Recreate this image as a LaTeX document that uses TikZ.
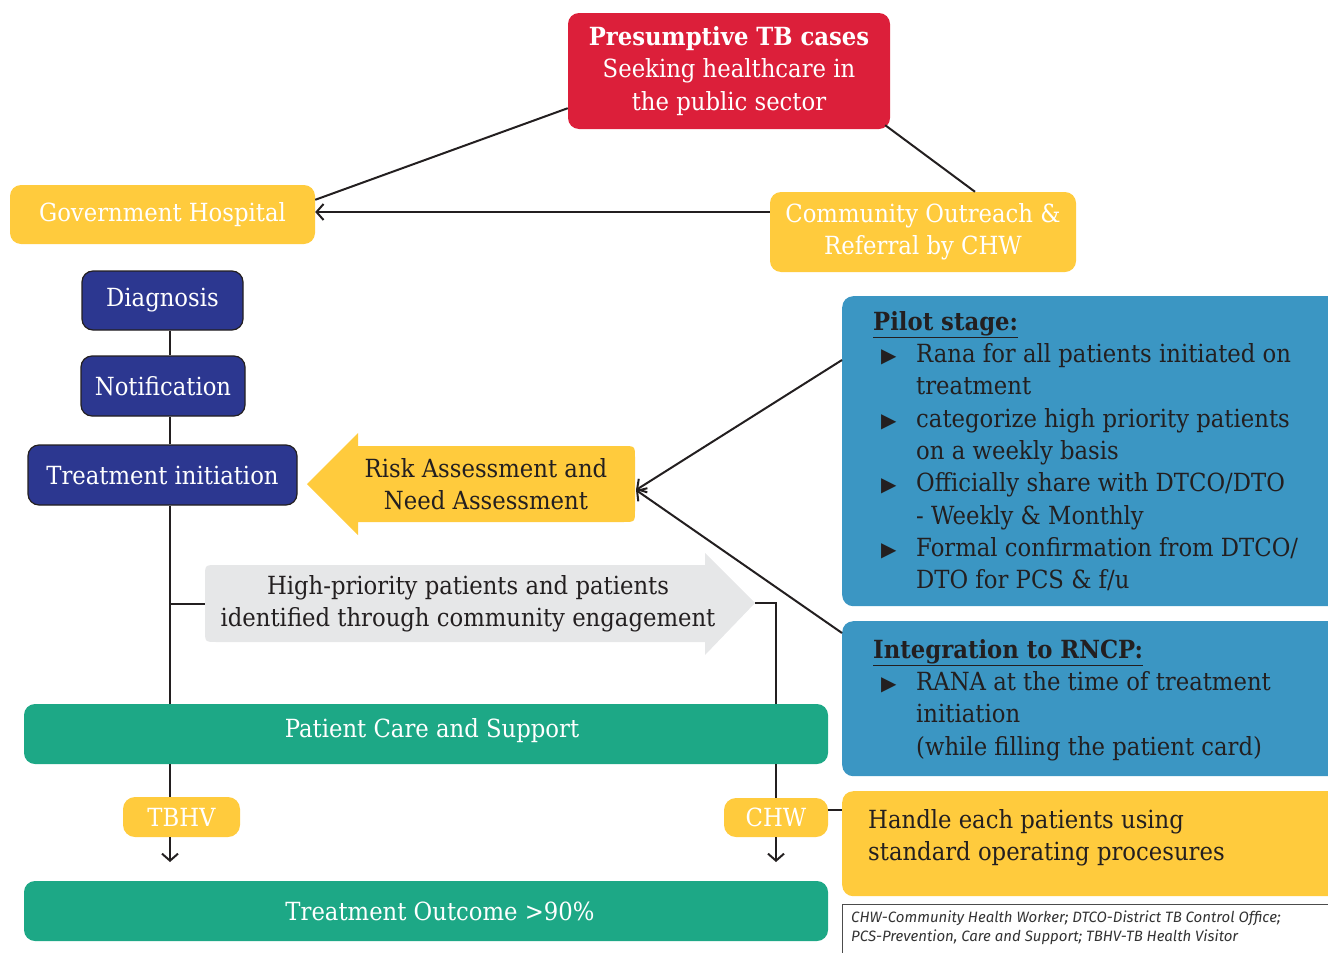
\documentclass[tikz,border=0pt]{standalone}
\usepackage{fontspec}
\setmainfont{DejaVu Serif}[FakeStretch=0.91]
\newfontfamily\symfont{DejaVu Sans}
\newfontfamily\legfont{Fira Sans}
\usetikzlibrary{arrows.meta,calc}
\definecolor{cred}{RGB}{220,31,58}
\definecolor{cyel}{RGB}{255,203,61}
\definecolor{cnavy}{RGB}{44,55,144}
\definecolor{cgreen}{RGB}{29,168,134}
\definecolor{cblue}{RGB}{59,150,195}
\definecolor{cgray}{RGB}{230,231,232}
\definecolor{cdark}{RGB}{35,31,32}
\newcommand{\mainsz}{\fontsize{25}{32.3}\selectfont}
\newcommand{\bul}{\makebox[43pt][l]{\hspace{8pt}{\symfont\fontsize{20}{20}\selectfont ▶}}}
\newcommand{\ind}{\hspace*{43pt}}
\begin{document}
\begin{tikzpicture}[x=1pt,y=-1pt,
  box/.style={rounded corners=11pt, inner sep=0pt, align=center, font=\mainsz},
  ybox/.style={box, fill=cyel, text=white},
  nbox/.style={box, fill=cnavy, draw=cdark, line width=1.2pt, text=white},
  gbox/.style={box, fill=cgreen, text=white},
  bbox/.style={box, fill=cblue, anchor=north west},
  txt/.style={inner sep=0pt, align=left, font=\mainsz, text=cdark, anchor=north west},
  conn/.style={draw=cdark, line width=2pt},
  arr/.style={conn, -{Straight Barb[length=7pt,width=16pt]}}]
\useasboundingbox (0,0) rectangle (1328,953);
% top
\node[box, fill=cred, text=white, minimum width=322, minimum height=116] (red) at (729,71)
  {\textbf{Presumptive TB cases}\\Seeking healthcare in\\the public sector};
\node[ybox, minimum width=305, minimum height=59] (gov) at (162.5,214.5) {Government Hospital};
\node[ybox, minimum width=306, minimum height=80] (comm) at (923,232) {Community Outreach \&\\Referral by CHW};
% left column
\node[nbox, minimum width=161, minimum height=59] (diag) at (162.5,300.5) {Diagnosis};
\node[nbox, minimum width=164, minimum height=60] (notif) at (163,386) {Notification};
\node[nbox, minimum width=269, minimum height=60] (treat) at (162.5,475) {Treatment initiation};
\coordinate (trunk) at (170,0);
\coordinate (right) at (776,0);
% risk arrow
\fill[cyel] (307,484) -- (358,433) -- (358,446) -- (623,446) .. controls (635,446) .. (635,458)
  -- (635,510) .. controls (635,522) .. (623,522) -- (358,522) -- (358,535) -- cycle;
\node[txt, anchor=center, align=center] (risk) at (486,484) {Risk Assessment and\\Need Assessment};
\coordinate (riskpt) at (636,490);
% gray arrow
\fill[cgray] (755,603) -- (705,553) -- (705,565) -- (217,565) .. controls (205,565) .. (205,577)
  -- (205,630) .. controls (205,642) .. (217,642) -- (705,642) -- (705,655) -- cycle;
\node[txt, anchor=center, align=center, minimum width=500] (grayn) at (455,603.5) {};
\node[txt, anchor=center, align=center] (graytxt) at (468,603.5) {High-priority patients and patients\\identified through community engagement};
\coordinate (graytip) at (755,603);
% blue boxes
\node[bbox, minimum width=500, minimum height=310] (pilot) at (842,296) {};
\node[txt] (pilottxt) at (873,311) {\underline{\textbf{Pilot stage:}}\\
\bul Rana for all patients initiated on\\
\ind treatment\\
\bul categorize high priority patients\\
\ind on a weekly basis\\
\bul Officially share with DTCO/DTO\\
\ind - Weekly \& Monthly\\
\bul Formal confirmation from DTCO/\\
\ind DTO for PCS \& f/u};
\node[bbox, minimum width=500, minimum height=155] (integ) at (842,621) {};
\node[txt] (integtxt) at (873,639) {\underline{\textbf{Integration to RNCP:}}\\
\bul RANA at the time of treatment\\
\ind initiation\\
\ind (while filling the patient card)};
% bottom
\node[gbox, minimum width=804, minimum height=60] (care) at (426,734) {};
\node[inner sep=0pt, font=\mainsz, text=white] (caretxt) at (432,731) {Patient Care and Support};
\node[ybox, minimum width=117, minimum height=40, rounded corners=12pt] (tbhv) at (181.5,817) {TBHV};
\node[ybox, minimum width=104, minimum height=39, rounded corners=12pt] (chw) at (776,817.5) {CHW};
\node[box, fill=cyel, anchor=north west, minimum width=500, minimum height=105] (handle) at (842,791) {};
\node[txt] (handletxt) at (868,809) {Handle each patients using\\standard operating procesures};
\node[gbox, minimum width=804, minimum height=60] (outc) at (426,911) {};
\node[inner sep=0pt, font=\mainsz, text=white] (outctxt) at (440,911) {Treatment Outcome >90\%};
\node[draw=black!70, line width=1pt, anchor=north west, minimum width=500, minimum height=60, inner sep=0pt] (legend) at (842,904) {};
\node[inner sep=0pt, anchor=north west, align=left, text=black!80, font={\legfont\itshape\fontsize{15}{19}\selectfont}] (legtxt) at (851,911)
  {CHW-Community Health Worker; DTCO-District TB Control Office;\\PCS-Prevention, Care and Support; TBHV-TB Health Visitor};
\coordinate (tbend) at (170,862);
\coordinate (chwend) at (776,862);
% connectors
\draw[conn] ($(red.south west)+(0,-21)$) -- ($(gov.north east)+(0,15)$);
\draw[conn] ($(red.south east)+(-5,-4)$) -- ($(comm.north)+(52,0)$);
\draw[arr] (comm.west |- 0,212) -- (gov.east |- 0,212);
\draw[conn] (diag.south -| trunk) -- (notif.north -| trunk);
\draw[conn] (notif.south -| trunk) -- (treat.north -| trunk);
\draw[conn] (treat.south -| trunk) -- (care.north -| trunk);
\draw[conn] (grayn.west -| trunk) -- (grayn.west);
\draw[conn] (graytip) -| (care.north -| right);
\draw[arr] ($(pilot.north west)+(0,64)$) -- (riskpt);
\draw[arr] ($(integ.north west)+(0,12)$) -- (riskpt);
\draw[conn] (care.south -| trunk) -- (tbhv.north -| trunk);
\draw[arr] (tbhv.south -| trunk) -- (tbend);
\draw[conn] (care.south -| right) -- (chw.north);
\draw[arr] (chw.south) -- (chwend);
\draw[conn] (chw.east |- 0,810) -- (handle.west |- 0,810);
\end{tikzpicture}
\end{document}
